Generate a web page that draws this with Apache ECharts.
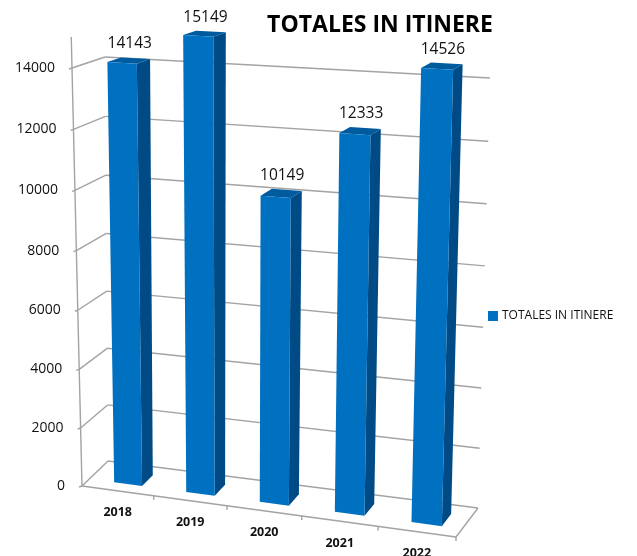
<!DOCTYPE html>
<html>
<head>
<meta charset="utf-8">
<style>html,body{margin:0;padding:0;background:#fff}#chart{width:637px;height:556px}</style>
<script src="https://cdn.jsdelivr.net/npm/echarts@6/dist/echarts.min.js"></script>
</head>
<body>
<div id="chart"></div>
<script>
const years = ["2018", "2019", "2020", "2021", "2022"];
const totals = [14143, 15149, 10149, 12333, 14526];
const valueTicks = [0, 2000, 4000, 6000, 8000, 10000, 12000, 14000];
const seriesName = "TOTALES IN ITINERE";

// corners of the 3d box, measured on the picture: floor and the 14000 level
const floor = { fl: [82, 486], fr: [456, 537], bl: [108, 461], br: [478, 508] };
const roof = { fl: [72, 68], fr: [468, 92], bl: [105, 57], br: [490, 78] };
const refValue = 14000;
const axisTop = 15000;
const depthFront = 0.28, depthBack = 0.7;
const barFrom = -0.15, barTo = 0.24; // bar edges relative to category centre

const font = "'Open Sans', sans-serif";
const gridColor = "#a3a3a3";

function warp(t, k) { return t * (1 - k) / (1 - k * t); }
function mix(a, b, t) { return [a[0] + (b[0] - a[0]) * t, a[1] + (b[1] - a[1]) * t]; }

// c: 0..1 along categories, d: 0..1 into the depth, t: 0..1 of the 14000 level
function project(c, d, t) {
    let cc = warp(c, 0.05);
    let low = mix(mix(floor.fl, floor.fr, cc), mix(floor.bl, floor.br, cc), d);
    let high = mix(mix(roof.fl, roof.fr, cc), mix(roof.bl, roof.br, cc), d);
    return mix(low, high, warp(t, 0.033));
}

function poly(points, color) {
    return { type: "polygon", shape: { points: points }, style: { fill: color } };
}
function line(a, b, width) {
    return {
        type: "line",
        shape: { x1: a[0], y1: a[1], x2: b[0], y2: b[1] },
        style: { stroke: gridColor, lineWidth: width || 1.4 }
    };
}
function label(p, text, size, weight, align) {
    return {
        type: "text",
        style: {
            x: p[0], y: p[1], text: text, fill: "#111",
            font: (weight || "normal") + " " + size + "px " + font,
            textAlign: align || "center", textVerticalAlign: "middle"
        }
    };
}

// turn grid pixels given by the axes into box parameters
function toBox(params, api, x, v) {
    let sys = params.coordSys;
    let p = api.coord([x, v]);
    return {
        c: (p[0] - sys.x) / sys.width,
        t: (sys.y + sys.height - p[1]) / sys.height * 16000 / refValue
    };
}

function renderWall(params, api) {
    let v = api.value(1);
    let t = toBox(params, api, 0, v).t;
    let front = project(0, 0, t), corner = project(0, 1, t), end = project(1, 1, t);
    let children = [
        line(front, corner), line(corner, end),
        line(front, [front[0] - 3, front[1] + 1]),
        label([front[0] - 17, front[1]], String(v), 14, "normal", "right")
    ];
    if (v === 0) {
        children.push(line(front, project(1, 0, 0)));
        children.push(line(project(1, 0, 0), end));
        children.push(line(front, project(0, 0, axisTop / refValue)));
    }
    return { type: "group", children: children };
}

function renderYear(params, api) {
    let i = api.value(0);
    let band = api.size([1, 0])[0] / params.coordSys.width;
    let mid = toBox(params, api, i, 0).c;
    let edge = project(mid + band / 2, 0, 0);
    let foot = project(mid, 0, 0);
    return {
        type: "group",
        children: [
            line(edge, [edge[0], edge[1] + 4]),
            label([foot[0], foot[1] + 22], years[i], 12.5, "bold")
        ]
    };
}

function renderBar(params, api) {
    let i = api.value(0);
    let band = api.size([1, 0])[0] / params.coordSys.width;
    let box = toBox(params, api, i, api.value(1));
    let c0 = box.c + barFrom * band, c1 = box.c + barTo * band;
    let f00 = project(c0, depthFront, 0), f10 = project(c1, depthFront, 0);
    let f01 = project(c0, depthFront, box.t), f11 = project(c1, depthFront, box.t);
    let b10 = project(c1, depthBack, 0), b11 = project(c1, depthBack, box.t);
    let b01 = project(c0, depthBack, box.t);
    let mid = mix(f01, b11, 0.5);
    return {
        type: "group",
        children: [
            poly([f10, b10, b11, f11], "#004b85"),
            poly([f01, f11, b11, b01], "#005a9e"),
            poly([f00, f10, f11, f01], "#0070c0"),
            label([mid[0] + 1, b11[1] - 15], String(api.value(1)), 15.5)
        ]
    };
}

let chart = echarts.init(document.getElementById("chart"));
chart.setOption({
    animation: false,
    title: {
        text: seriesName,
        left: 375, top: 9, textAlign: "center",
        textStyle: { fontFamily: font, fontSize: 23, fontWeight: "bold", color: "#000" }
    },
    legend: {
        data: [seriesName],
        left: 483, top: 305,
        icon: "rect", itemWidth: 10, itemHeight: 10, itemGap: 0,
        textStyle: { fontFamily: font, fontSize: 12, color: "#111", padding: [0, 0, 0, -1] }
    },
    grid: { left: 0, top: 0, width: 637, height: 556 },
    xAxis: { type: "category", data: years, show: false },
    yAxis: { type: "value", min: 0, max: 16000, interval: 2000, show: false },
    series: [
        {
            type: "custom", name: "wall", silent: true,
            data: valueTicks.map(v => [0, v]),
            renderItem: renderWall
        },
        {
            type: "custom", name: "years", silent: true,
            data: years.map((y, i) => [i, 0]),
            renderItem: renderYear
        },
        {
            type: "custom", name: seriesName,
            itemStyle: { color: "#0070c0" },
            data: totals.map((v, i) => [i, v]),
            renderItem: renderBar
        }
    ]
});
</script>
</body>
</html>
